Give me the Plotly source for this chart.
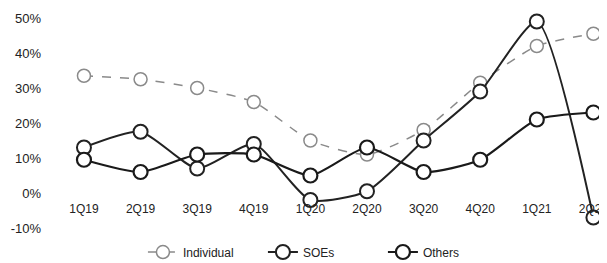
import plotly.graph_objects as go

quarters = ["1Q19", "2Q19", "3Q19", "4Q19", "1Q20", "2Q20", "3Q20", "4Q20", "1Q21", "2Q21"]
individual = [33.5, 32.5, 30.0, 26.0, 15.0, 11.0, 18.0, 31.5, 42.0, 45.5]
soes = [13.0, 17.5, 7.0, 14.0, -2.0, 0.5, 15.0, 29.0, 49.0, -7.0]
others = [9.5, 6.0, 11.0, 11.0, 5.0, 13.0, 6.0, 9.5, 21.0, 23.0]
y_ticks = [-10, 0, 10, 20, 30, 40, 50]
y_labels = ["-10%", "0%", "10%", "20%", "30%", "40%", "50%"]

fig = go.Figure()
fig.add_trace(go.Scatter(
    x=quarters, y=individual, name="Individual", mode="lines+markers",
    line=dict(color="#8a8a8a", width=1.5, dash="dash", shape="spline", smoothing=0.6),
    marker=dict(symbol="circle", size=13, color="white", line=dict(color="#8a8a8a", width=1.5)),
))
fig.add_trace(go.Scatter(
    x=quarters, y=soes, name="SOEs", mode="lines+markers",
    line=dict(color="#222222", width=2, shape="spline", smoothing=0.6),
    marker=dict(symbol="circle", size=14, color="white", line=dict(color="#222222", width=2)),
))
fig.add_trace(go.Scatter(
    x=quarters, y=others, name="Others", mode="lines+markers",
    line=dict(color="#1a1a1a", width=2.2, shape="spline", smoothing=0.6),
    marker=dict(symbol="circle", size=14, color="white", line=dict(color="#1a1a1a", width=2.2)),
))

fig.update_layout(
    width=607, height=263,
    margin=dict(l=42, r=8, t=3, b=36, autoexpand=False),
    paper_bgcolor="white", plot_bgcolor="white",
    font=dict(family="Liberation Sans, Arial, sans-serif", size=12, color="#222222"),
    showlegend=True,
    legend=dict(orientation="h", x=0.49, xanchor="center", y=-0.076, yanchor="middle",
                font=dict(size=12, color="#222222"), bgcolor="rgba(0,0,0,0)",
                entrywidth=75),
    xaxis=dict(type="category", range=[-0.6, 9.24], showgrid=False, zeroline=False,
               showline=False, ticks="", anchor="free", position=0.156, automargin=False,
               tickfont=dict(size=12, color="#222222")),
    yaxis=dict(range=[-12, 52], tickvals=y_ticks, ticktext=y_labels, showgrid=False,
               zeroline=False, showline=False, ticks="", ticklabelstandoff=8, automargin=False,
               tickfont=dict(size=13, color="#222222")),
)

fig.write_html("out.html")
